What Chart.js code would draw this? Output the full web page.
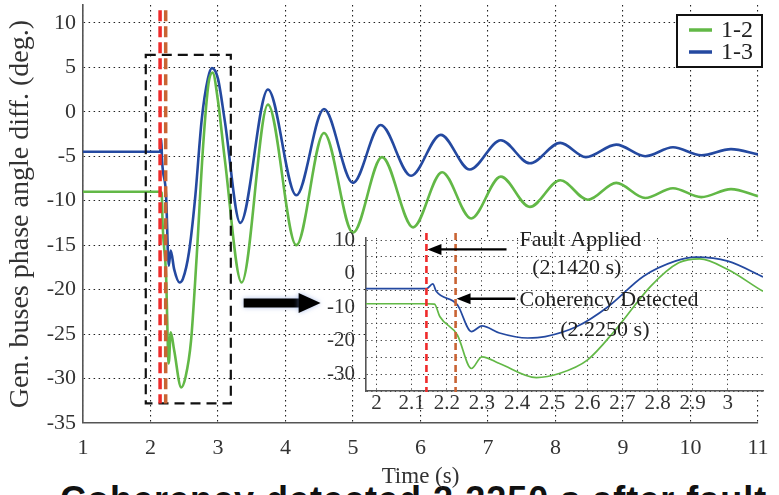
<!DOCTYPE html>
<html>
<head>
<meta charset="utf-8">
<script src="https://cdn.jsdelivr.net/npm/chart.js@4.4.1/dist/chart.umd.min.js"></script>
<style>
  html, body { margin: 0; padding: 0; background: #fff; overflow: hidden; }
  #wrap { position: relative; width: 779px; height: 495px; overflow: hidden; }
  #main { position: absolute; left: 0; top: 0; }
  #inset { position: absolute; left: 300px; top: 220px; }
  #caption { position: absolute; left: 60px; top: 482px; font: bold 36px 'Liberation Sans', Arial, sans-serif;
             line-height: 36px; letter-spacing: 1px; color: #111; white-space: nowrap; }
</style>
</head>
<body>
<div id="wrap">
  <div id="caption">Coherency detected 2.2250 s after fault</div>
  <canvas id="main" width="779" height="495"></canvas>
  <canvas id="inset" width="479" height="205"></canvas>
</div>
<script>
// series 1-2 (green)
var t12 = [1.0, 2.142, 2.165, 2.18, 2.23, 2.27, 2.30, 2.35, 2.455, 2.52, 2.60, 2.68, 2.78, 2.86, 2.92, 3.0, 3.10,
           3.35, 3.74, 4.16, 4.57, 5.0, 5.43, 5.89, 6.32, 6.75, 7.19, 7.62, 8.07, 8.48, 8.90, 9.33, 9.74, 10.16, 10.6, 11.0]
var v12 = [-9.0, -9.0, -9.1, -12.8, -18.3, -28.3, -24.8, -26.8, -31.0, -29.8, -25.8, -16.8, -3.8, 3.2, 4.4, 1.2, -5.3,
           -19.2, 0.8, -15.0, -2.4, -13.6, -5.1, -13.0, -6.8, -12.0, -7.3, -10.7, -7.7, -9.9, -8.0, -9.7, -8.6, -9.6, -8.7, -9.5]

// series 1-3 (blue)
var t13 = [1.0, 2.142, 2.16, 2.17, 2.23, 2.27, 2.30, 2.35, 2.43, 2.48, 2.57, 2.66, 2.76, 2.85, 2.91, 3.0, 3.10,
           3.33, 3.74, 4.16, 4.57, 5.0, 5.41, 5.86, 6.30, 6.73, 7.19, 7.62, 8.07, 8.45, 8.90, 9.33, 9.74, 10.16, 10.6, 11.0]
var v13 = [-4.5, -4.5, -3.1, -5.3, -9.3, -17.3, -15.6, -17.7, -19.2, -18.8, -15.8, -9.8, -0.8, 3.7, 4.9, 3.7, -1.0,
           -12.5, 2.5, -9.4, 0.3, -8.0, -1.5, -7.2, -2.6, -6.5, -3.2, -5.8, -3.5, -5.1, -3.7, -5.0, -4.0, -4.9, -4.2, -4.8]

var seriesNames = ['1-2', '1-3']

var mainXTicks = [1, 2, 3, 4, 5, 6, 7, 8, 9, 10, 11]
var mainXLabels = ['1', '2', '3', '4', '5', '6', '7', '8', '9', '10', '11']
var mainYTicks = [-35, -30, -25, -20, -15, -10, -5, 0, 5, 10]
var mainYLabels = ['-35', '-30', '-25', '-20', '-15', '-10', '-5', '0', '5', '10']

var insetXTicks = [2, 2.1, 2.2, 2.3, 2.4, 2.5, 2.6, 2.7, 2.8, 2.9, 3]
var insetXLabels = ['2', '2.1', '2.2', '2.3', '2.4', '2.5', '2.6', '2.7', '2.8', '2.9', '3']
var insetYTicks = [-35, -30, -25, -20, -15, -10, -5, 0, 5, 10]
var insetYLabels = ['', '-30', '', '-20', '', '-10', '', '0', '', '10']

var faultTime = 2.142
var detectTime = 2.225

var green = '#62b846'
var blue = '#2449a0'
var red = '#ef2b2b'
var orange = '#c96434'
var serif = "'Liberation Serif', 'Times New Roman', serif"

function toPts(ts, vs) {
  return ts.map(function(t, i) { return {x: t, y: vs[i]} })
}

// keep chart area where we put it, labels may hang over
function noPad(s) {
  s.paddingTop = 0
  s.paddingBottom = 0
  s.paddingLeft = 0
  s.paddingRight = 0
}

function arrowLine(ctx, x1, y, x2, w, headLen, headHalf) {
  var dir = x2 > x1 ? 1 : -1
  ctx.beginPath()
  ctx.lineWidth = w
  ctx.moveTo(x1, y)
  ctx.lineTo(x2 - dir * headLen * 0.8, y)
  ctx.stroke()
  ctx.beginPath()
  ctx.moveTo(x2, y)
  ctx.lineTo(x2 - dir * headLen, y - headHalf)
  ctx.lineTo(x2 - dir * headLen, y + headHalf)
  ctx.closePath()
  ctx.fill()
}

var mainDecor = {
  id: 'mainDecor',
  afterDatasetsDraw: function(chart) {
    var ctx = chart.ctx, x = chart.scales.x, y = chart.scales.y
    ctx.save()
    // zoom box
    ctx.strokeStyle = '#111'
    ctx.lineWidth = 2.2
    ctx.setLineDash([10, 6])
    var bx1 = x.getPixelForValue(1.93), bx2 = x.getPixelForValue(3.19)
    var by1 = y.getPixelForValue(6.4), by2 = y.getPixelForValue(-32.8)
    ctx.strokeRect(bx1, by1, bx2 - bx1, by2 - by1)
    // fault / detection lines
    ctx.lineWidth = 3.5
    ctx.setLineDash([11, 5])
    ;[[faultTime, red], [detectTime, orange]].forEach(function(d) {
      var px = x.getPixelForValue(d[0])
      ctx.strokeStyle = d[1]
      ctx.beginPath()
      ctx.moveTo(px, y.getPixelForValue(11.4))
      ctx.lineTo(px, by2)
      ctx.stroke()
    })
    ctx.setLineDash([])
    // big arrow towards the inset
    ctx.shadowColor = 'rgba(120,150,220,0.6)'
    ctx.shadowBlur = 5
    ctx.fillStyle = '#000'
    ctx.strokeStyle = '#000'
    arrowLine(ctx, x.getPixelForValue(3.38), y.getPixelForValue(-21.5), x.getPixelForValue(4.52), 9, 22, 10)
    ctx.restore()
  },
  afterDraw: function(chart) {
    var ctx = chart.ctx
    ctx.save()
    var bx = 677, by = 15, bw = 85, bh = 52
    ctx.fillStyle = '#fff'
    ctx.fillRect(bx, by, bw, bh)
    ctx.strokeStyle = '#111'
    ctx.lineWidth = 2
    ctx.strokeRect(bx, by, bw, bh)
    chart.data.datasets.forEach(function(ds, i) {
      var ly = by + 15 + i * 22
      ctx.strokeStyle = ds.borderColor
      ctx.lineWidth = 3.5
      ctx.beginPath()
      ctx.moveTo(bx + 12, ly)
      ctx.lineTo(bx + 35, ly)
      ctx.stroke()
      ctx.fillStyle = '#222'
      ctx.font = '24px ' + serif
      ctx.textBaseline = 'middle'
      ctx.fillText(ds.label, bx + 44, ly + 1)
    })
    ctx.restore()
  }
}

new Chart(document.getElementById('main'), {
  type: 'line',
  data: {
    datasets: [
      {label: seriesNames[0], data: toPts(t12, v12), borderColor: green, borderWidth: 2.6,
       pointRadius: 0, cubicInterpolationMode: 'monotone'},
      {label: seriesNames[1], data: toPts(t13, v13), borderColor: blue, borderWidth: 2.6,
       pointRadius: 0, cubicInterpolationMode: 'monotone'}
    ]
  },
  options: {
    responsive: false,
    animation: false,
    events: [],
    layout: {padding: {top: 5, right: 21, left: 0, bottom: 0}},
    plugins: {legend: {display: false}, tooltip: {enabled: false}},
    scales: {
      x: {
        type: 'linear', min: 1, max: 11,
        afterBuildTicks: function(s) { s.ticks = mainXTicks.map(function(v) { return {value: v} }) },
        afterFit: function(s) { s.height = 72; noPad(s) },
        ticks: {font: {family: serif, size: 22}, color: '#333', padding: 12, maxRotation: 0, autoSkip: false,
                callback: function(v, i) { return mainXLabels[i] }},
        grid: {color: '#222', lineWidth: 1.1, drawTicks: false},
        border: {color: '#555', width: 1.6, dash: [1.5, 3.5]},
        title: {display: true, text: 'Time (s)', font: {family: serif, size: 23}, color: '#333',
                padding: {top: 0, bottom: 4}}
      },
      y: {
        min: -35, max: 12,
        afterBuildTicks: function(s) { s.ticks = mainYTicks.map(function(v) { return {value: v} }) },
        afterFit: function(s) { s.width = 83; noPad(s) },
        ticks: {font: {family: serif, size: 22}, color: '#333', padding: 7,
                callback: function(v, i) { return mainYLabels[i] }},
        grid: {color: '#222', lineWidth: 1.1, drawTicks: false},
        border: {color: '#555', width: 1.6, dash: [1.5, 3.5]},
        title: {display: true, text: 'Gen. buses phase angle diff. (deg.)', font: {family: serif, size: 28},
                color: '#333', padding: {top: 4, bottom: 0}}
      }
    }
  },
  plugins: [mainDecor]
})

var insetDecor = {
  id: 'insetDecor',
  beforeDraw: function(chart) {
    var a = chart.chartArea, ctx = chart.ctx
    ctx.save()
    ctx.fillStyle = '#fff'
    ctx.fillRect(a.left, a.top, a.right - a.left, a.bottom - a.top)
    ctx.restore()
  },
  afterDatasetsDraw: function(chart) {
    var ctx = chart.ctx, x = chart.scales.x, y = chart.scales.y, a = chart.chartArea
    ctx.save()
    ctx.lineWidth = 2.6
    ctx.setLineDash([7, 4])
    ;[[faultTime, red], [detectTime, orange]].forEach(function(d) {
      var px = x.getPixelForValue(d[0])
      ctx.strokeStyle = d[1]
      ctx.beginPath()
      ctx.moveTo(px, a.top - 5)
      ctx.lineTo(px, a.bottom + 1)
      ctx.stroke()
    })
    ctx.setLineDash([])
    ctx.fillStyle = '#000'
    ctx.strokeStyle = '#000'
    arrowLine(ctx, x.getPixelForValue(2.37), y.getPixelForValue(7.2), x.getPixelForValue(faultTime) + 1, 2.4, 14, 5.5)
    arrowLine(ctx, x.getPixelForValue(2.395), y.getPixelForValue(-7.5), x.getPixelForValue(detectTime) + 1, 2.4, 14, 5.5)
    ctx.fillStyle = '#222'
    ctx.font = '22px ' + serif
    ctx.textBaseline = 'middle'
    ctx.textAlign = 'left'
    ctx.fillText('Fault Applied', x.getPixelForValue(2.407), y.getPixelForValue(10.0))
    ctx.fillText('Coherency Detected', x.getPixelForValue(2.407), y.getPixelForValue(-7.8))
    ctx.textAlign = 'center'
    ctx.fillText('(2.1420 s)', x.getPixelForValue(2.57), y.getPixelForValue(1.6))
    ctx.fillText('(2.2250 s)', x.getPixelForValue(2.65), y.getPixelForValue(-16.8))
    ctx.restore()
  }
}

new Chart(document.getElementById('inset'), {
  type: 'line',
  data: {
    datasets: [
      {label: seriesNames[0], data: toPts(t12, v12), borderColor: green, borderWidth: 1.7,
       pointRadius: 0, cubicInterpolationMode: 'monotone'},
      {label: seriesNames[1], data: toPts(t13, v13), borderColor: blue, borderWidth: 1.7,
       pointRadius: 0, cubicInterpolationMode: 'monotone'}
    ]
  },
  options: {
    responsive: false,
    animation: false,
    events: [],
    layout: {padding: {top: 18, right: 16, left: 0, bottom: 0}},
    plugins: {legend: {display: false}, tooltip: {enabled: false}},
    scales: {
      x: {
        type: 'linear', min: 1.97, max: 3.1,
        afterBuildTicks: function(s) { s.ticks = insetXTicks.map(function(v) { return {value: v} }) },
        afterFit: function(s) { s.height = 34; noPad(s) },
        ticks: {font: {family: serif, size: 21}, color: '#333', padding: 0, maxRotation: 0, autoSkip: false,
                callback: function(v, i) { return insetXLabels[i] }},
        grid: {color: '#333', lineWidth: 1, drawTicks: false},
        border: {color: '#555', width: 1.6, dash: [1.2, 3.5]}
      },
      y: {
        min: -35, max: 10.6,
        afterBuildTicks: function(s) { s.ticks = insetYTicks.map(function(v) { return {value: v} }) },
        afterFit: function(s) { s.width = 66; noPad(s) },
        ticks: {font: {family: serif, size: 21}, color: '#333', padding: 11, autoSkip: false,
                callback: function(v, i) { return insetYLabels[i] }},
        grid: {color: '#333', lineWidth: 1, drawTicks: false},
        border: {color: '#555', width: 1.6, dash: [1.2, 3.5]}
      }
    }
  },
  plugins: [insetDecor]
})
</script>
</body>
</html>
